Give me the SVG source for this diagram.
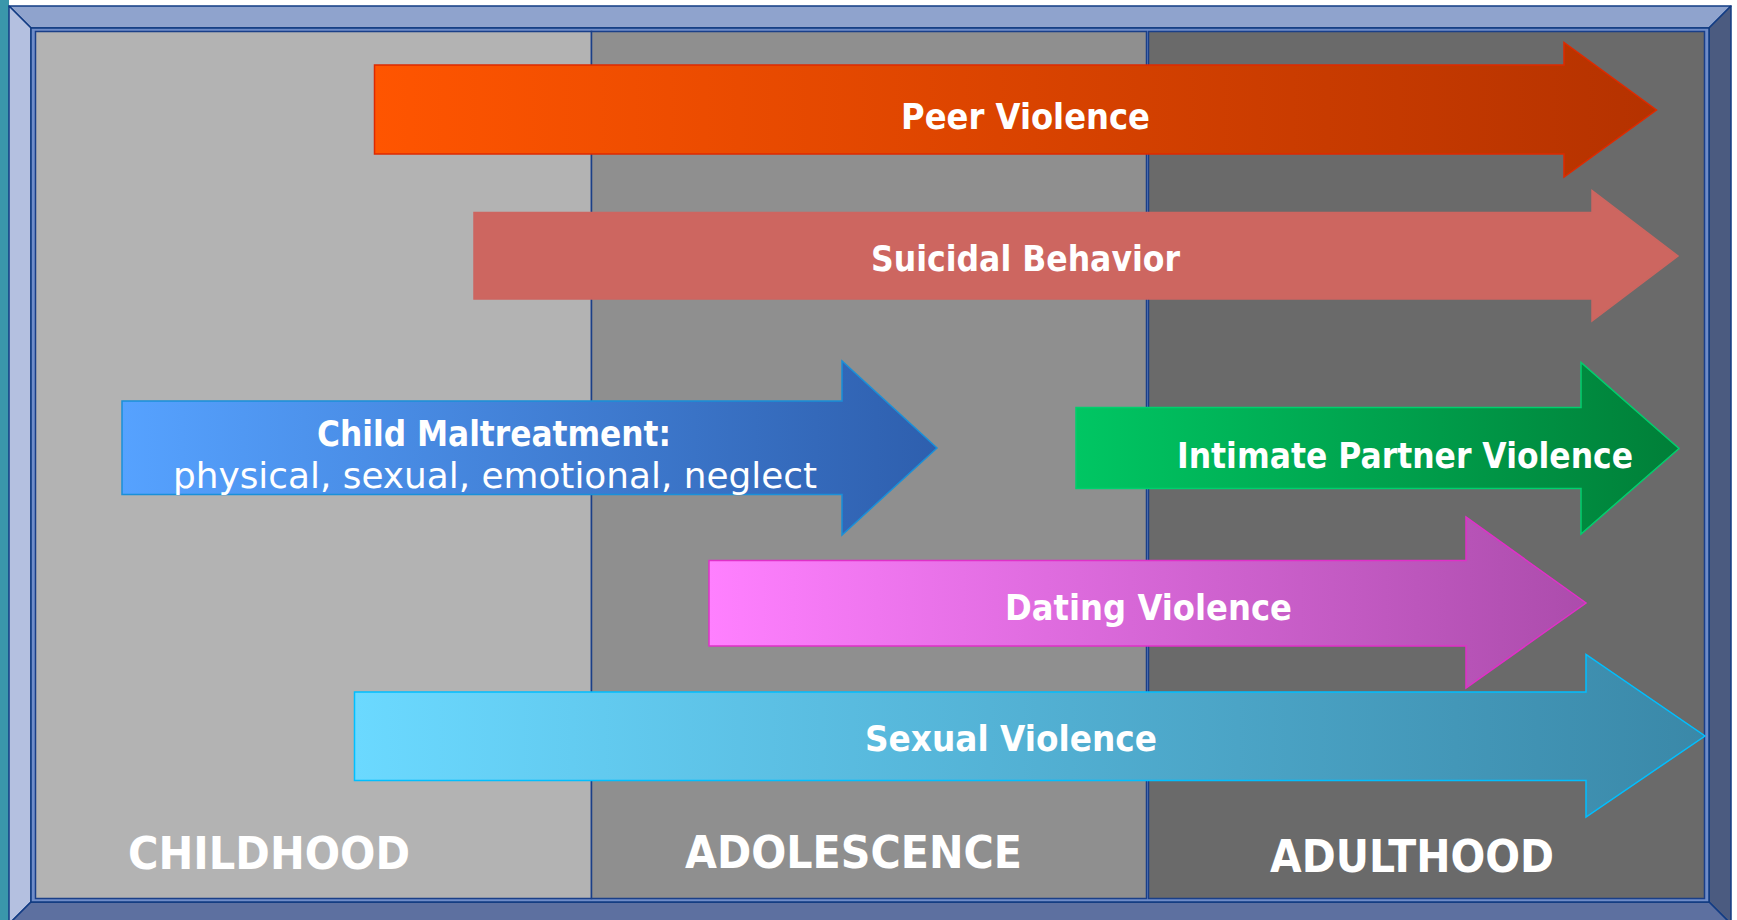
<svg xmlns="http://www.w3.org/2000/svg" width="1737" height="920" viewBox="0 0 1737 920">
<defs>
<style>
.lbl{font-family:"DejaVu Sans","Liberation Sans",sans-serif;font-weight:bold;fill:#FFFFFF;font-size:35px}
.sub{font-family:"DejaVu Sans","Liberation Sans",sans-serif;font-weight:normal;fill:#FFFFFF;font-size:35px}
.age{font-family:"DejaVu Sans","Liberation Sans",sans-serif;font-weight:bold;fill:#FFFFFF;font-size:45px}
.bev{stroke:#123C84;stroke-width:1.5;stroke-linejoin:round}
.col{stroke:#1A3F88;stroke-width:1.5}
.arr{stroke-width:1.5;stroke-linejoin:miter}
</style>
<linearGradient id="gPeer" x1="0" y1="0" x2="1" y2="0"><stop offset="0" stop-color="#FF5500"/><stop offset="1" stop-color="#B53200"/></linearGradient>
<linearGradient id="gChild" x1="0" y1="0" x2="1" y2="0"><stop offset="0" stop-color="#56A2FF"/><stop offset="1" stop-color="#2E5FAE"/></linearGradient>
<linearGradient id="gIpv" x1="0" y1="0" x2="1" y2="0"><stop offset="0" stop-color="#00C663"/><stop offset="1" stop-color="#007F38"/></linearGradient>
<linearGradient id="gDate" x1="0" y1="0" x2="1" y2="0"><stop offset="0" stop-color="#FF80FF"/><stop offset="1" stop-color="#AC4CAC"/></linearGradient>
<linearGradient id="gSex" x1="0" y1="0" x2="1" y2="0"><stop offset="0" stop-color="#6BD9FF"/><stop offset="1" stop-color="#3A88A8"/></linearGradient>
</defs>
<rect x="0" y="0" width="1737" height="920" fill="#FFFFFF"/>
<rect x="0" y="0" width="9" height="920" fill="#3A97AB"/>
<g id="frame">
<polygon class="bev" points="9,6 1731,6 1709,28 31,28" fill="#8FA3CD"/>
<polygon class="bev" points="9,6 31,28 31,902 9,924" fill="#B4C0E0"/>
<polygon class="bev" points="1731,6 1731,924 1709,902 1709,28" fill="#4B5B80"/>
<polygon class="bev" points="9,924 31,902 1709,902 1731,924" fill="#5D70A0"/>
<rect x="31" y="28" width="1678" height="874" fill="#6F8CC8" stroke="#0F3A80" stroke-width="1.5"/>
</g>
<g id="columns">
<rect id="childhood-col" class="col" x="35.5" y="31.5" width="556" height="867" fill="#B3B3B3"/>
<rect id="adolescence-col" class="col" x="591.5" y="31.5" width="555" height="867" fill="#8F8F8F"/>
<rect id="adulthood-col" class="col" x="1148.5" y="31.5" width="556" height="867" fill="#6A6A6A"/>
</g>
<g id="connectors">
<g id="peer-violence">
<path class="arr" d="M374.5,65 L1564,65 L1564,42.5 L1656.5,110 L1564,177 L1564,154 L374.5,154 Z" fill="url(#gPeer)" stroke="#DE2A00"/>
<text class="lbl" x="901" y="129" textLength="249" lengthAdjust="spacingAndGlyphs">Peer Violence</text>
</g>
<g id="suicidal-behavior">
<path class="arr" d="M474,212.5 L1592,212.5 L1592,190.5 L1678,256 L1592,321 L1592,299 L474,299 Z" fill="#CD6660" stroke="#CD6660"/>
<text class="lbl" x="871" y="271" textLength="309" lengthAdjust="spacingAndGlyphs">Suicidal Behavior</text>
</g>
<g id="child-maltreatment">
<path class="arr" d="M122,401 L842,401 L842,361 L937,448 L842,535 L842,494.5 L122,494.5 Z" fill="url(#gChild)" stroke="#1A90D8"/>
<text class="lbl" x="317" y="446" textLength="354" lengthAdjust="spacingAndGlyphs">Child Maltreatment:</text>
<text class="sub" x="173" y="488" textLength="644" lengthAdjust="spacingAndGlyphs">physical, sexual, emotional, neglect</text>
</g>
<g id="intimate-partner-violence">
<path class="arr" d="M1076,407.5 L1581,407.5 L1581,362.5 L1679,448.5 L1581,534 L1581,488.5 L1076,488.5 Z" fill="url(#gIpv)" stroke="#00CF6E"/>
<text class="lbl" x="1177" y="468" textLength="456" lengthAdjust="spacingAndGlyphs">Intimate Partner Violence</text>
</g>
<g id="dating-violence">
<path class="arr" d="M709,560.5 L1466,560.5 L1466,517 L1586,603 L1466,688 L1466,646 L709,646 Z" fill="url(#gDate)" stroke="#E030C8"/>
<text class="lbl" x="1005" y="619.5" textLength="287" lengthAdjust="spacingAndGlyphs">Dating Violence</text>
</g>
<g id="sexual-violence">
<path class="arr" d="M354.5,692 L1586,692 L1586,654.5 L1705,736 L1586,817 L1586,780.5 L354.5,780.5 Z" fill="url(#gSex)" stroke="#00BFFF"/>
<text class="lbl" x="865" y="751" textLength="292" lengthAdjust="spacingAndGlyphs">Sexual Violence</text>
</g>
</g>
<g id="age-labels">
<text id="childhood" class="age" x="128" y="869" textLength="282" lengthAdjust="spacingAndGlyphs">CHILDHOOD</text>
<text id="adolescence" class="age" x="685" y="868" textLength="337" lengthAdjust="spacingAndGlyphs">ADOLESCENCE</text>
<text id="adulthood" class="age" x="1270" y="872" textLength="284" lengthAdjust="spacingAndGlyphs">ADULTHOOD</text>
</g>
</svg>
